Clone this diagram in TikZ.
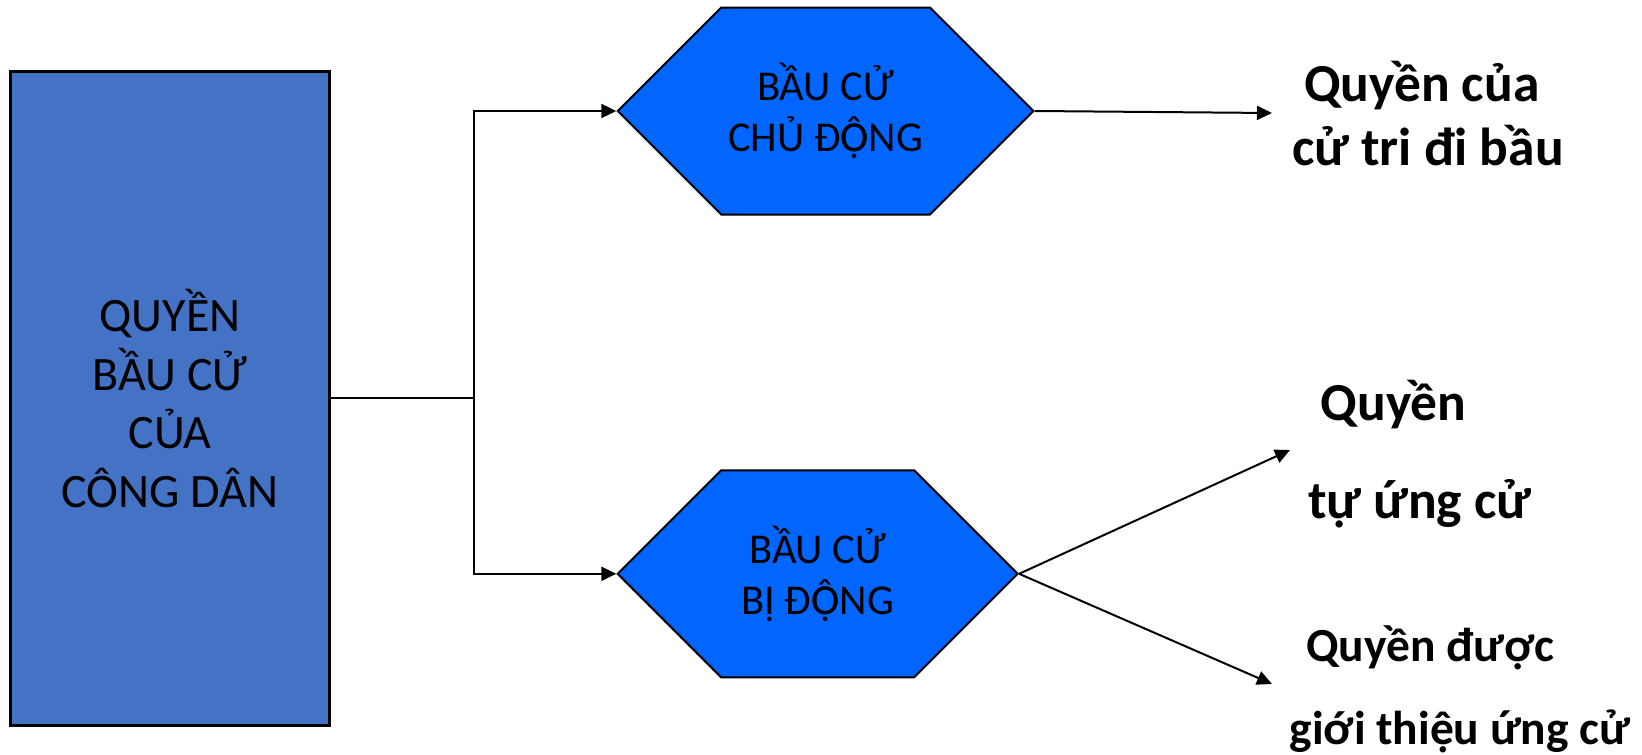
\documentclass[tikz,border=0pt]{standalone}
\usepackage{fontspec}
\setmainfont{Carlito}
\usepackage{tikz}
\usetikzlibrary{arrows.meta,positioning,shapes.symbols}
\tikzset{>/.tip={Triangle[length=15pt,width=14pt]}}
\newcommand{\Ohd}{\ooalign{Ô\cr Ọ}}
\definecolor{boxblue}{RGB}{68,114,196}
\definecolor{hexblue}{RGB}{0,102,255}
\tikzset{hexa/.style={draw,line width=2pt,fill=hexblue,signal,signal to=east and west,
    signal pointer angle=90,minimum height=207pt,align=center,inner sep=0pt,
    font=\fontsize{42.5}{51.3}\selectfont}}
\tikzset{rlabel/.style={anchor=base,font=\fontsize{53.5}{60}\selectfont\bfseries}}
\tikzset{rlabelsm/.style={rlabel,font=\fontsize{47.5}{56}\selectfont\bfseries}}

\begin{document}
\begin{tikzpicture}[x=1pt,y=-1pt,line width=2pt]
        \useasboundingbox (0,0) rectangle (1642,755);
        \node(Qbc)[draw,fill=boxblue,line width=2.5pt,minimum width=319pt,minimum height=654pt,
            align=center,font=\fontsize{48}{58.6}\selectfont] at (170,398.4)
            {QUYỀN\\BẦU CỬ\\CỦA\\CÔNG DÂN};
        \node(Chd)[hexa,minimum width=415.7pt] at (825.6,111) {BẦU CỬ\\CHỦ Đ\Ohd NG};
        \node(Bid)[hexa,minimum width=400pt] at (817.7,573.8) {BẦU CỬ\\BỊ Đ\Ohd NG};
        \coordinate(fork) at (474.3,398.4);
        % right side labels
        \node(Qcua)[rlabel] at (1421.8,101.6) {Quyền của};
        \node(Cutri)[rlabel] at (1428,165.4) {cử tri đi bầu};
        \node(Quyen)[rlabel] at (1393.6,420.9) {Quyền};
        \node(Tuung)[rlabel] at (1419.7,518.3) {tự ứng cử};
        \node(Qduoc)[rlabelsm] at (1430.2,661.7) {Quyền được};
        \node(Gtuc)[rlabelsm] at (1460,744) {giới thiệu ứng cử};
        \coordinate(e1) at (1272,113);
        \coordinate(e2) at (1290,450);
        \coordinate(e3) at (1272,684);
        \draw[->] (Qbc.east) -- (fork) |- (Chd.west);
        \draw[->] (fork) |- (Bid.west);
        \path[->]
        (Chd.east) edge (e1)
        (Bid.east) edge (e2)
        (Bid.east) edge (e3);
      \end{tikzpicture}
\end{document}
